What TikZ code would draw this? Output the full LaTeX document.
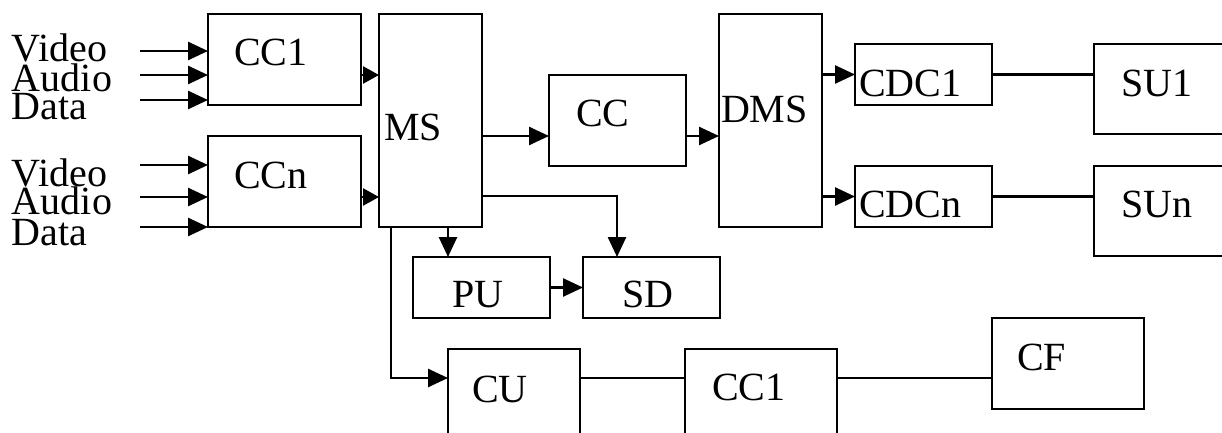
\documentclass[tikz,border=0pt]{standalone}
\usepackage{fontspec}
\setmainfont{Liberation Serif}
\usetikzlibrary{arrows.meta}
\tikzset{
  box/.style={draw=black, line width=2.6pt, rectangle, inner sep=0pt, outer sep=0pt, anchor=north west},
  txt/.style={inner sep=0pt, outer sep=0pt, anchor=base west, font=\fontsize{40}{44}\selectfont},
  ln/.style={draw=black, line width=2.6pt},
  arr/.style={ln, -{Triangle[length=20pt,width=18pt]}},
  sarr/.style={ln, -{Triangle[length=16pt,width=17pt]}},
}
\begin{document}
\begin{tikzpicture}[x=1pt,y=-1pt]
\path[use as bounding box, fill=white] (0,0) rectangle (1222,433);
\clip (0,0) rectangle (1222,433);

% boxes
\node[box, minimum width=153pt, minimum height=91pt] (cc1) at (208,14) {};
\node[box, minimum width=153pt, minimum height=91pt] (ccn) at (208,136) {};
\node[box, minimum width=103pt, minimum height=213pt] (ms) at (379,14) {};
\node[box, minimum width=137pt, minimum height=91pt] (cc) at (549,75) {};
\node[box, minimum width=103pt, minimum height=213pt] (dms) at (719,14) {};
\node[box, minimum width=137pt, minimum height=61pt] (cdc1) at (855,44) {};
\node[box, minimum width=137pt, minimum height=61pt] (cdcn) at (855,166) {};
\node[box, minimum width=160pt, minimum height=90pt] (su1) at (1094,44) {};
\node[box, minimum width=160pt, minimum height=90pt] (sun) at (1094,166) {};
\node[box, minimum width=137pt, minimum height=61pt] (pu) at (413,257) {};
\node[box, minimum width=137pt, minimum height=61pt] (sd) at (583,257) {};
\node[box, minimum width=132pt, minimum height=110pt] (cu) at (448,349) {};
\node[box, minimum width=152pt, minimum height=110pt] (cc1b) at (685,349) {};
\node[box, minimum width=152pt, minimum height=91pt] (cf) at (992,318) {};

% box texts
\node[txt] (tcc1) at (234,66) {CC1};
\node[txt] (tccn) at (234,188) {CCn};
\node[txt] (tms) at (384,140) {MS};
\node[txt] (tcc) at (576,126) {CC};
\node[txt] (tdms) at (721,123) {DMS};
\node[txt] (tcdc1) at (859,96) {CDC1};
\node[txt] (tcdcn) at (859,217) {CDCn};
\node[txt] (tsu1) at (1121,97) {SU1};
\node[txt] (tsun) at (1121,217) {SUn};
\node[txt] (tpu) at (452,307) {PU};
\node[txt] (tsd) at (622,307) {SD};
\node[txt] (tcu) at (472,402) {CU};
\node[txt] (tcc1b) at (712,400) {CC1};
\node[txt] (tcf) at (1017,370) {CF};

% input labels
\node[txt] (v1) at (12,62) {Video};
\node[txt] (a1) at (12,92) {Audio};
\node[txt] (d1) at (12,120) {Data};
\node[txt] (v2) at (12,186) {Video};
\node[txt] (a2) at (12,214) {Audio};
\node[txt] (d2) at (12,245) {Data};

% input arrow starts
\coordinate (iv1) at (140,51);
\coordinate (ia1) at (140,75);
\coordinate (id1) at (140,100);
\coordinate (iv2) at (140,165);
\coordinate (ia2) at (140,197);
\coordinate (id2) at (140,227);
\draw[arr] (iv1) -- (iv1 -| cc1.west);
\draw[arr] (ia1) -- (ia1 -| cc1.west);
\draw[arr] (id1) -- (id1 -| cc1.west);
\draw[arr] (iv2) -- (iv2 -| ccn.west);
\draw[arr] (ia2) -- (ia2 -| ccn.west);
\draw[arr] (id2) -- (id2 -| ccn.west);

% CC -> MS
\coordinate (c1o) at (361,75);
\coordinate (cno) at (361,197);
\draw[sarr] (c1o -| cc1.east) -- (c1o -| ms.west);
\draw[sarr] (cno -| ccn.east) -- (cno -| ms.west);

% MS -> CC -> DMS
\coordinate (mid) at (0,136);
\draw[arr] (mid -| ms.east) -- (mid -| cc.west);
\draw[arr] (mid -| cc.east) -- (mid -| dms.west);

% DMS -> CDC -> SU
\draw[arr] (cdc1.west -| dms.east) -- (cdc1.west);
\draw[arr] (cdcn.west -| dms.east) -- (cdcn.west);
\draw[ln] (cdc1.east) -- (cdc1.east -| su1.west);
\draw[ln] (cdcn.east) -- (cdcn.east -| sun.west);

% MS -> SD, MS -> PU, PU -> SD
\coordinate (sdx) at (617,196);
\draw[arr] (sdx -| ms.east) -- (sdx) -- (sdx |- sd.north);
\coordinate (pux) at (448,0);
\draw[arr] (pux |- ms.south) -- (pux |- pu.north);
\draw[arr] (pu.east) -- (pu.east -| sd.west);

% MS -> CU -> CC1 -> CF
\coordinate (cux) at (391,378);
\draw[arr] (cux |- ms.south) -- (cux) -- (cux -| cu.west);
\draw[ln] (cux -| cu.east) -- (cux -| cc1b.west);
\draw[ln] (cux -| cc1b.east) -- (cux -| cf.west);
\end{tikzpicture}
\end{document}
